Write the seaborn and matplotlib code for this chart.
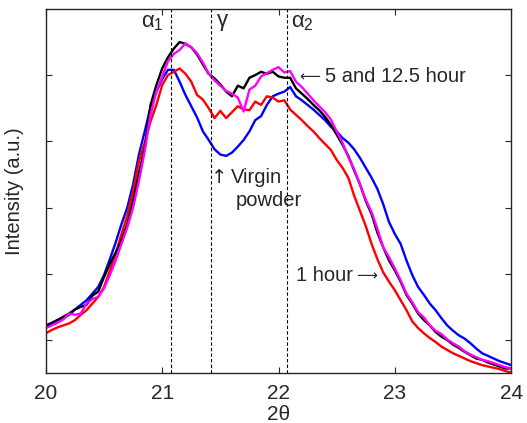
import numpy as np
import pandas as pd
import matplotlib
matplotlib.use("Agg")
import matplotlib.pyplot as plt
import seaborn as sns

# 2-theta sampling grid (deg), 0.05 deg steps from 20 to 24
two_theta = np.round(np.linspace(20, 24, 81), 2)

# intensities (arbitrary units)
black = [1.20, 1.25, 1.30, 1.35, 1.40, 1.46, 1.50, 1.53, 1.67, 1.73,
         1.95, 2.15, 2.32, 2.50, 2.75, 3.10, 3.52, 3.90, 4.55, 4.85,
         5.10, 5.27, 5.40, 5.50, 5.47, 5.42, 5.31, 5.16, 5.02, 4.95,
         4.86, 4.75, 4.68, 4.84, 4.80, 4.96, 5.00, 5.05, 5.02, 5.05,
         4.98, 4.96, 4.96, 4.80, 4.72, 4.64, 4.55, 4.47, 4.37, 4.25,
         4.10, 3.95, 3.78, 3.56, 3.35, 3.10, 2.90, 2.62, 2.40, 2.20,
         2.05, 1.88, 1.68, 1.55, 1.40, 1.30, 1.22, 1.12, 1.05, 1.00,
         0.93, 0.88, 0.82, 0.77, 0.72, 0.70, 0.66, 0.63, 0.60, 0.57,
         0.57]

magenta = [1.18, 1.22, 1.26, 1.31, 1.40, 1.38, 1.40, 1.55, 1.62, 1.65,
           1.78, 1.98, 2.20, 2.45, 2.70, 3.00, 3.40, 3.85, 4.40, 4.75,
           4.98, 5.21, 5.32, 5.38, 5.48, 5.42, 5.33, 5.19, 5.02, 4.92,
           4.84, 4.76, 4.72, 4.66, 4.45, 4.78, 4.84, 4.98, 5.03, 5.08,
           5.12, 5.04, 5.06, 4.90, 4.82, 4.72, 4.62, 4.53, 4.44, 4.33,
           4.15, 3.98, 3.76, 3.58, 3.35, 3.12, 2.93, 2.68, 2.40, 2.25,
           2.08, 1.90, 1.70, 1.57, 1.42, 1.34, 1.22, 1.14, 1.09, 1.01,
           0.95, 0.90, 0.83, 0.78, 0.74, 0.70, 0.68, 0.65, 0.62, 0.59,
           0.57]

red = [1.10, 1.15, 1.19, 1.22, 1.25, 1.30, 1.38, 1.45, 1.55, 1.65,
       1.80, 2.05, 2.30, 2.60, 2.88, 3.25, 3.70, 3.98, 4.30, 4.55,
       4.85, 5.00, 5.05, 5.10, 5.02, 4.90, 4.70, 4.63, 4.50, 4.35,
       4.46, 4.35, 4.44, 4.53, 4.48, 4.47, 4.60, 4.55, 4.68, 4.66,
       4.60, 4.62, 4.48, 4.40, 4.32, 4.23, 4.15, 4.05, 3.96, 3.87,
       3.72, 3.60, 3.45, 3.18, 2.95, 2.72, 2.45, 2.22, 2.02, 1.88,
       1.75, 1.60, 1.45, 1.28, 1.18, 1.10, 1.03, 0.97, 0.90, 0.85,
       0.80, 0.76, 0.72, 0.68, 0.65, 0.62, 0.60, 0.58, 0.56, 0.53,
       0.51]

blue = [1.22, 1.26, 1.30, 1.33, 1.38, 1.46, 1.53, 1.60, 1.70, 1.80,
        1.98, 2.22, 2.47, 2.75, 3.00, 3.35, 3.80, 4.15, 4.52, 4.75,
        4.94, 5.08, 5.08, 4.90, 4.70, 4.53, 4.36, 4.15, 4.02, 3.88,
        3.80, 3.78, 3.83, 3.92, 4.02, 4.15, 4.32, 4.38, 4.55, 4.68,
        4.72, 4.75, 4.82, 4.68, 4.62, 4.55, 4.48, 4.40, 4.32, 4.22,
        4.15, 4.05, 3.98, 3.88, 3.75, 3.60, 3.45, 3.28, 3.05, 2.78,
        2.60, 2.45, 2.20, 1.98, 1.80, 1.68, 1.55, 1.45, 1.33, 1.22,
        1.14, 1.07, 1.02, 0.95, 0.87, 0.80, 0.76, 0.72, 0.68, 0.65,
        0.62]

peak_pos = [21.08, 21.42, 22.075]
peak_names = [r"$\alpha_1$", r"$\gamma$", r"$\alpha_2$"]

series = {"virgin": blue, "1 hour": red, "5 hour": black, "12.5 hour": magenta}
palette = {"virgin": "#0000ff", "1 hour": "#ff0000", "5 hour": "#000000", "12.5 hour": "#ff00ff"}

df = pd.concat([pd.DataFrame({"2theta": two_theta, "intensity": v, "sample": k})
                for k, v in series.items()], ignore_index=True)

sns.set_style("ticks")
plt.rcParams["font.family"] = ["Liberation Sans", "DejaVu Sans"]
plt.rcParams["mathtext.fontset"] = "custom"
plt.rcParams["mathtext.rm"] = "Liberation Sans"
plt.rcParams["mathtext.it"] = "Liberation Sans"

fig = plt.figure(figsize=(5.27, 4.23), dpi=100)
ax = fig.add_axes([0.087, 0.118, 0.883, 0.861])

sns.lineplot(data=df, x="2theta", y="intensity", hue="sample", palette=palette,
             linewidth=1.7, legend=False, ax=ax)

for p in peak_pos:
    ax.axvline(p, color="black", linestyle="--", linewidth=0.8, dashes=(3, 2))

ax.set_xlim(20, 24)
ax.set_ylim(0.5, 6.0)
ax.set_xticks([20, 21, 22, 23, 24])
ax.set_yticks([1, 2, 3, 4, 5])
ax.set_yticklabels([])
ax.tick_params(direction="in", top=True, right=True, labelsize=15, length=4, width=0.8, pad=8)
for s in ax.spines.values():
    s.set_linewidth(1.0)

ax.set_xlabel("2θ", fontsize=15, labelpad=1)
ax.set_ylabel("Intensity (a.u.)", fontsize=14.5, labelpad=8)

ax.text(20.82, 5.80, peak_names[0], fontsize=16, va="center")
ax.text(21.46, 5.80, peak_names[1], fontsize=16, va="center")
ax.text(22.11, 5.80, peak_names[2], fontsize=16, va="center")

arrow_font = ["DejaVu Sans", "Liberation Sans"]
ax.text(22.18, 4.98, "⟵", fontsize=10.5, va="center", family=arrow_font)
ax.text(22.40, 4.98, "5 and 12.5 hour", fontsize=14.5, va="center")
ax.text(21.42, 3.45, "↑", fontsize=14, va="center", family=arrow_font)
ax.text(21.59, 3.45, "Virgin", fontsize=14.5, va="center")
ax.text(21.63, 3.10, "powder", fontsize=14.5, va="center")
ax.text(22.15, 1.97, "1 hour", fontsize=14.5, va="center")
ax.text(22.67, 1.97, "⟶", fontsize=10.5, va="center", family=arrow_font)

fig.savefig("out.png", dpi=100)
